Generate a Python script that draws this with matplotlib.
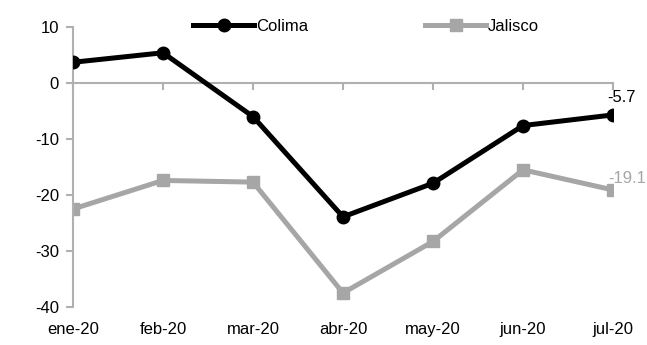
import matplotlib.pyplot as plt

meses = ["ene-20", "feb-20", "mar-20", "abr-20", "may-20", "jun-20", "jul-20"]
colima = [3.7, 5.4, -6.0, -23.9, -17.9, -7.6, -5.7]
jalisco = [-22.5, -17.4, -17.7, -37.5, -28.3, -15.5, -19.1]

plt.rcParams['font.family'] = ['Liberation Sans', 'DejaVu Sans']
plt.rcParams['font.size'] = 12
plt.rcParams['axes.unicode_minus'] = False

gris = "#A6A6A6"
eje = "#B0B0B0"

fig = plt.figure(figsize=(6.47, 3.45), dpi=100)
ax = fig.add_axes([73/647, (345-307)/345, (613-73)/647, (307-27)/345])

x = list(range(len(meses)))
ax.plot(x, colima, color="black", lw=3.6, marker="o", ms=9, label="Colima", zorder=3)
ax.plot(x, jalisco, color=gris, lw=3.6, marker="s", ms=9, label="Jalisco", zorder=2)

ax.set_xlim(0, len(meses) - 1)
ax.set_ylim(-40, 10)
ax.set_yticks([10, 0, -10, -20, -30, -40])

for s in ["top", "right"]:
    ax.spines[s].set_visible(False)
ax.spines["left"].set_color(eje)
ax.spines["left"].set_linewidth(1.5)
ax.spines["bottom"].set_position(("data", 0))
ax.spines["bottom"].set_color(eje)
ax.spines["bottom"].set_linewidth(1.5)
ax.set_xticks(x)
ax.tick_params(axis="x", direction="out", length=5, width=1.5, color=eje, labelbottom=False)
ax.tick_params(axis="y", direction="out", length=5, width=1.5, color=eje, pad=5)

sec = ax.secondary_xaxis("bottom")
sec.set_xticks(x)
sec.set_xticklabels(meses)
sec.spines["bottom"].set_visible(False)
sec.tick_params(length=0, pad=11)

ax.annotate(f"{colima[-1]:.1f}", (x[-1], colima[-1]), xytext=(6, 7),
            textcoords="offset points", ha="center", va="bottom", color="black")
ax.annotate(f"{jalisco[-1]:.1f}", (x[-1], jalisco[-1]), xytext=(10, 3),
            textcoords="offset points", ha="center", va="bottom", color=gris)

fig.legend(loc="upper center", bbox_to_anchor=(366/647, 0.98), ncol=2, frameon=False,
           handlelength=3.7, columnspacing=7.0, handletextpad=0.1, borderaxespad=0.3)

fig.savefig("out.png", dpi=100)
